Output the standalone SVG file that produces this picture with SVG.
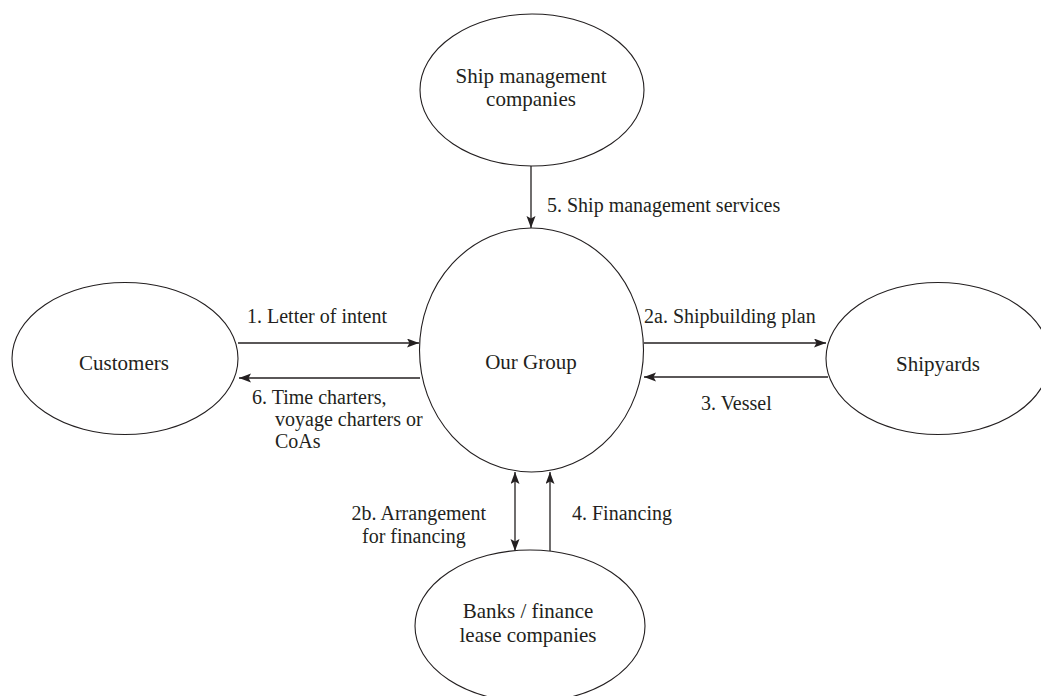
<svg xmlns="http://www.w3.org/2000/svg" width="1041" height="696" viewBox="0 0 1041 696">
  <style>
    .node { fill: #ffffff; stroke: #231f20; stroke-width: 1.1; }
    .ntext { font-family: "Liberation Serif", "Times New Roman", serif; font-size: 21px; fill: #231f20; text-anchor: middle; }
    .etext { font-family: "Liberation Serif", "Times New Roman", serif; font-size: 20px; fill: #231f20; }
    .edge { fill: none; stroke: #231f20; stroke-width: 1.3; }
  </style>
  <defs>
    <marker id="arrow" markerUnits="userSpaceOnUse" markerWidth="13" markerHeight="10" refX="12" refY="4.5" orient="auto-start-reverse">
      <path d="M0,0 L12,4.5 L0,9 L2.5,4.5 Z" fill="#231f20"/>
    </marker>
  </defs>

  <rect width="1041" height="696" fill="#ffffff"/>

  <!-- connectors -->
  <g id="connectors">
    <line class="edge" x1="531" y1="166" x2="531" y2="228" marker-end="url(#arrow)"/>
    <line class="edge" x1="238" y1="343" x2="419" y2="343" marker-end="url(#arrow)"/>
    <line class="edge" x1="420" y1="378" x2="239" y2="378" marker-end="url(#arrow)"/>
    <line class="edge" x1="644" y1="343" x2="826" y2="343" marker-end="url(#arrow)"/>
    <line class="edge" x1="828" y1="377" x2="644" y2="377" marker-end="url(#arrow)"/>
    <line class="edge" x1="515" y1="472" x2="515" y2="551" marker-start="url(#arrow)" marker-end="url(#arrow)"/>
    <line class="edge" x1="550" y1="551" x2="550" y2="472" marker-end="url(#arrow)"/>

    <text class="etext" x="547" y="212">5. Ship management services</text>
    <text class="etext" x="247" y="323">1. Letter of intent</text>
    <text class="etext" x="644" y="323">2a. Shipbuilding plan</text>
    <text class="etext" x="252" y="404">6. Time charters,</text>
    <text class="etext" x="275" y="426">voyage charters or</text>
    <text class="etext" x="275" y="448">CoAs</text>
    <text class="etext" x="701" y="410">3. Vessel</text>
    <text class="etext" x="486" y="520" text-anchor="end">2b. Arrangement</text>
    <text class="etext" x="362" y="543">for financing</text>
    <text class="etext" x="572" y="520">4. Financing</text>
  </g>

  <!-- nodes -->
  <g id="ship-management">
    <ellipse class="node" cx="532" cy="90" rx="112" ry="76"/>
    <text class="ntext" x="531" y="83">Ship management</text>
    <text class="ntext" x="531" y="106">companies</text>
  </g>
  <g id="customers">
    <ellipse class="node" cx="125" cy="358.5" rx="113" ry="76"/>
    <text class="ntext" x="124" y="370">Customers</text>
  </g>
  <g id="our-group">
    <ellipse class="node" cx="531.5" cy="350" rx="112" ry="122"/>
    <text class="ntext" x="531" y="369">Our Group</text>
  </g>
  <g id="shipyards">
    <ellipse class="node" cx="938" cy="358.5" rx="112" ry="76"/>
    <text class="ntext" x="938" y="371">Shipyards</text>
  </g>
  <g id="banks">
    <ellipse class="node" cx="530" cy="626" rx="115" ry="76"/>
    <text class="ntext" x="528" y="618">Banks / finance</text>
    <text class="ntext" x="528" y="642">lease companies</text>
  </g>
</svg>
